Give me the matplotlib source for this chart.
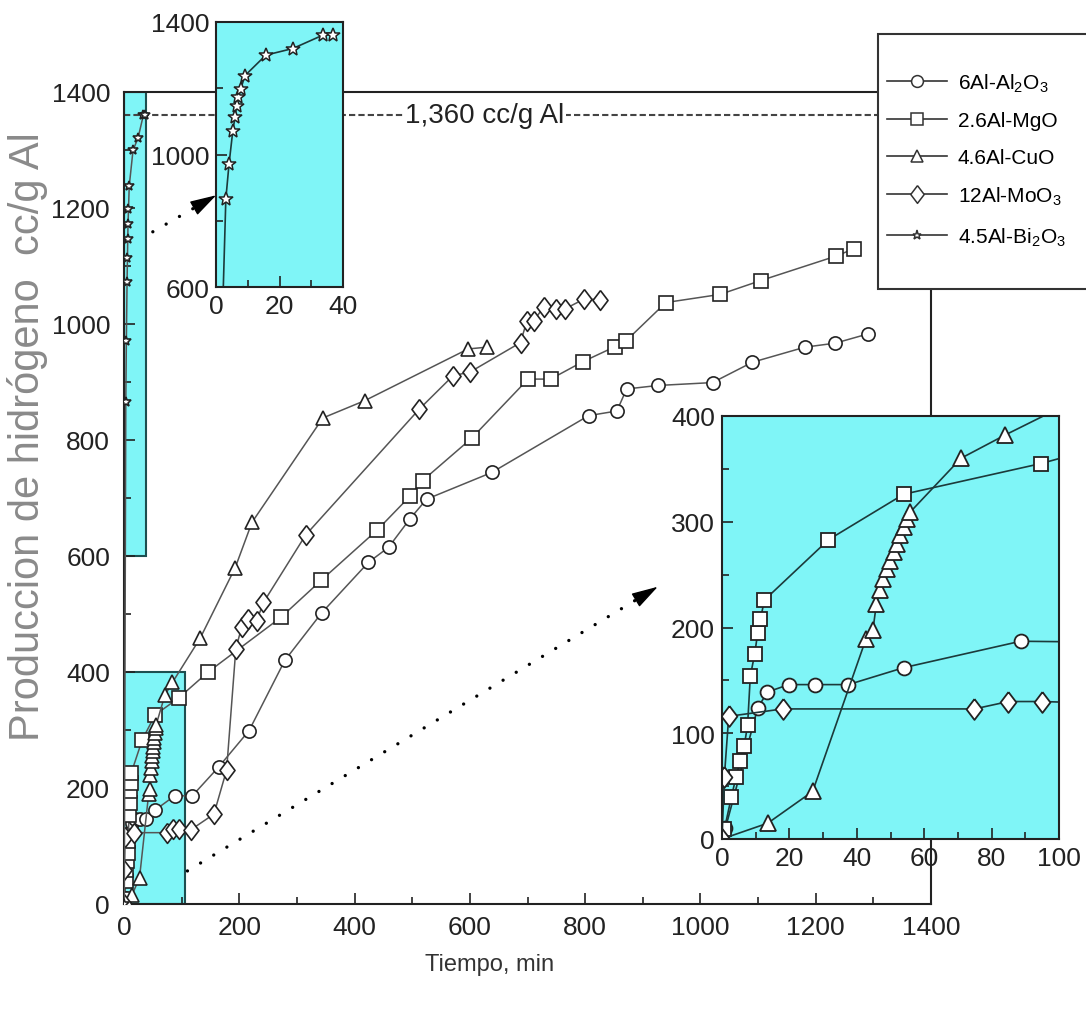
import numpy as np
import matplotlib.pyplot as plt
from matplotlib.patches import Rectangle
from matplotlib.lines import Line2D
from matplotlib.ticker import MultipleLocator, FixedLocator

plt.rcParams['font.family'] = ['Liberation Sans', 'DejaVu Sans']
plt.rcParams['mathtext.fontset'] = 'custom'
plt.rcParams['mathtext.rm'] = 'Liberation Sans'

# Produccion de hidrogeno (cc/g Al) vs tiempo (min)
t_al2o3 = [0, 1, 10.6, 13.5, 19.8, 27.5, 37.5, 53.9, 88.6, 118, 164, 217, 279, 343,
           424, 459, 496, 525, 638, 806, 855, 872, 926, 1021, 1090, 1181, 1234, 1291]
h_al2o3 = [0, 10, 124, 139, 146, 146, 146, 162, 187, 186, 236, 299, 420, 502,
           589, 615, 664, 698, 744, 842, 850, 888, 894, 899, 934, 960, 967, 983]

t_mgo = [0, 0.7, 2.8, 4.2, 5.4, 6.6, 7.6, 8.4, 9.7, 10.6, 11.4, 12.6, 31.6, 53.9, 94.6,
         146, 272, 342, 439.5, 497, 518, 603, 701, 740, 796, 852, 871, 940, 1034, 1105,
         1235, 1267]
h_mgo = [2, 9, 40, 59, 74, 88, 108, 154, 175, 195, 208, 226, 283, 326, 355,
         400, 494, 558, 645, 704, 730, 803, 905, 905, 935, 961, 971, 1037, 1051, 1075,
         1117, 1130]

t_cuo = [0, 13.6, 26.9, 42.7, 44.8, 45.8, 46.9, 47.9, 48.9, 49.9, 50.9, 51.9, 52.9, 53.9,
         55.0, 55.8, 70.9, 84, 132, 193, 222, 345, 418, 597, 629]
h_cuo = [0, 15, 45, 189, 198, 222, 235, 246, 255, 263, 271, 279, 287, 295,
         303, 309, 360, 382, 458, 580, 658, 838, 868, 957, 960]

t_moo3 = [0, 0.7, 2, 18, 74.9, 85, 95, 116, 156, 178, 194, 204, 215, 230, 242, 315,
          512, 571, 600, 688, 699, 711, 728, 750, 765, 798, 825]
h_moo3 = [0, 59, 116, 123, 123, 130, 130, 128, 155, 231, 440, 477, 491, 488, 520, 636,
          853, 911, 917, 968, 1006, 1006, 1029, 1026, 1026, 1043, 1042]

t_bi2o3 = [0.5, 3.1, 4.1, 5.3, 6.0, 6.5, 7.0, 7.8, 9.1, 15.7, 24.2, 33.8, 36.7]
h_bi2o3 = [0, 866, 971, 1072, 1113, 1147, 1173, 1198, 1238, 1300, 1320, 1361, 1361]

labels = ['6Al-Al$_2$O$_3$', '2.6Al-MgO', '4.6Al-CuO', '12Al-MoO$_3$', '4.5Al-Bi$_2$O$_3$']
h_teorica = 1360

CYAN = '#7ff5f7'
# diamond a bit wider than matplotlib's 'd'
rombo = [(0, 1), (0.76, 0), (0, -1), (-0.76, 0), (0, 1)]
series = [
    (t_al2o3, h_al2o3, 'o', 10),
    (t_mgo, h_mgo, 's', 10),
    (t_cuo, h_cuo, '^', 11),
    (t_moo3, h_moo3, rombo, 15),
    (t_bi2o3, h_bi2o3, '*', 8),
]

fig = plt.figure(figsize=(10.86, 10.12), dpi=100)
W, H = 1086, 1012


def px_axes(x0, y0, x1, y1, **kw):
    return fig.add_axes([x0 / W, 1 - y1 / H, (x1 - x0) / W, (y1 - y0) / H], **kw)


def style(ax, size, major=(200, 200), minor=(100, 100)):
    ax.xaxis.set_major_locator(MultipleLocator(major[0]))
    ax.yaxis.set_major_locator(MultipleLocator(major[1]))
    ax.xaxis.set_minor_locator(MultipleLocator(minor[0]))
    ax.yaxis.set_minor_locator(MultipleLocator(minor[1]))
    ax.tick_params(which='both', direction='in', width=1.2, labelsize=size, colors='#222')
    ax.tick_params(which='major', length=8)
    ax.tick_params(which='minor', length=5)
    for s in ax.spines.values():
        s.set_linewidth(1.5)
        s.set_color('#222')


def dotted_arrow(ax, tail, tip, back=0.05):
    # dotted shaft plus a solid head
    bx = tip[0] - back * (tip[0] - tail[0])
    by = tip[1] - back * (tip[1] - tail[1])
    ax.plot([tail[0], bx], [tail[1], by], color='black', lw=2.4,
            ls=(0, (0.01, 4.6)), solid_capstyle='round', dash_capstyle='round', zorder=4)
    ax.annotate('', xy=tip, xytext=(bx, by), zorder=4,
                arrowprops=dict(arrowstyle='-|>,head_length=0.75,head_width=0.22',
                                color='black', lw=1, mutation_scale=22,
                                shrinkA=0, shrinkB=0))


# main plot
ax = px_axes(124, 93, 931, 905)
ax.set_xlim(0, 1400)
ax.set_ylim(0, 1400)
style(ax, 19)
ax.tick_params(axis='y', pad=10)
ax.tick_params(axis='x', pad=8)

ax.add_patch(Rectangle((0, 600), 38, 800, facecolor=CYAN, edgecolor='#1d4f50', lw=1.5, zorder=1))
ax.add_patch(Rectangle((0, 0), 105, 400, facecolor=CYAN, edgecolor='#1d4f50', lw=1.5, zorder=1))
ax.axhline(h_teorica, color='#444', lw=1.5, ls=(0, (3, 1.5)), zorder=1.5)
ax.text(626, h_teorica, '1,360 cc/g Al', fontsize=20, ha='center', va='center',
        color='#222', bbox=dict(facecolor='white', edgecolor='none', pad=1), zorder=2)

for x, y, m, ms in series:
    ax.plot(x, y, color='#555', lw=1.1, marker=m, ms=ms * 0.95 if m != '*' else 7.5,
            mfc='white', mec='#222', mew=1.2, zorder=3)

dotted_arrow(ax, (50, 1159), (160, 1222), back=0.22)
dotted_arrow(ax, (110, 57), (926, 547), back=0.045)

# zoom on the first 100 min
ins = px_axes(722, 417, 1059, 840, zorder=3)
ins.set_facecolor(CYAN)
ins.set_xlim(0, 100)
ins.set_ylim(0, 400)
style(ins, 19, major=(20, 100), minor=(10, 50))
ins.tick_params(pad=5)
for x, y, m, ms in series[:4]:
    ins.plot(x, y, color='#1c3a3b', lw=1.2, marker=m, ms=ms, mfc='white',
             mec='#222', mew=1.3)

# zoom on the Bi2O3 curve
ins2 = px_axes(216, 23, 343, 288, zorder=3)
ins2.set_facecolor(CYAN)
ins2.set_xlim(0, 40)
ins2.set_ylim(600, 1400)
style(ins2, 19, major=(20, 400), minor=(10, 200))
ins2.yaxis.set_major_locator(FixedLocator([600, 1000, 1400]))
ins2.tick_params(pad=5)
ins2.plot(t_bi2o3, h_bi2o3, color='#1c3a3b', lw=1.2, marker='*', ms=10,
          mfc='white', mec='#222', mew=1.1)

# legend box, partly past the right edge
fig.patches.append(Rectangle((878 / W, 1 - 290 / H), (1100 - 878) / W, 255 / H,
                             transform=fig.transFigure, facecolor='white',
                             edgecolor='#333', lw=1.5, zorder=4))
handles = [Line2D([], [], color='#333', lw=1.2, marker=m, ms=ms * 0.85, mfc='white',
                  mec='#333', mew=1.1) for _, _, m, ms in series]
fig.legend(handles, labels, loc='upper left', bbox_to_anchor=(887 / W, 1 - 72 / H),
           frameon=False, fontsize=15, handlelength=2.9, handletextpad=0.5,
           labelspacing=0.85, borderpad=0, borderaxespad=0)

fig.text(28 / W, 1 - 437 / H, 'Produccion de hidrógeno  cc/g Al', rotation=90,
         ha='center', va='center', fontsize=30, color='#8a8a8a')
fig.text(490 / W, 1 - 965 / H, 'Tiempo, min', ha='center', va='center',
         fontsize=17, color='#333')

fig.savefig('out.png', dpi=100)
